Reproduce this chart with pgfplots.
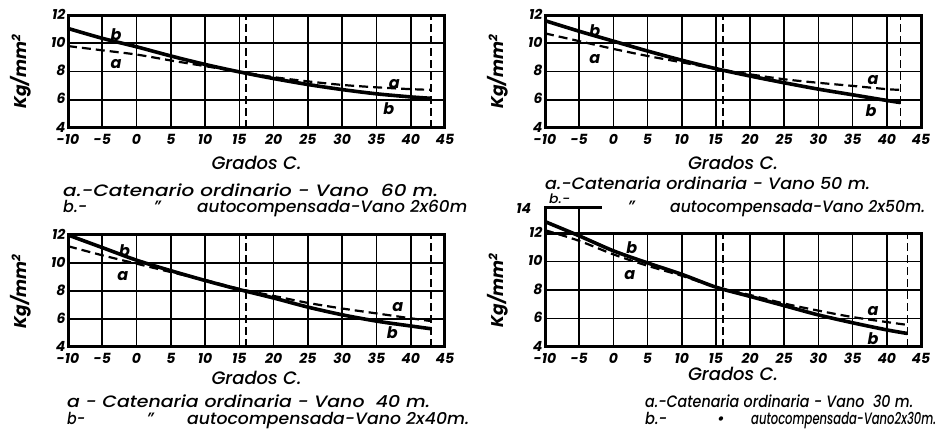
\documentclass[border=0pt]{standalone}
\usepackage{fontspec}
\setmainfont{Poppins}[UprightFont=* Medium, ItalicFont=* Medium Italic, BoldFont=* Bold, BoldItalicFont=* Bold Italic]
\usepackage{pgfplots}
\pgfplotsset{compat=1.18}

\pgfplotsset{
 panel/.style={
  scale only axis, width=377pt, height=113pt,
  xmin=-10, xmax=45, ymin=4, ymax=12,
  xtick={-10,-5,...,45}, ytick={4,6,...,12},
  xticklabels={-10,-5,0,5,10,15,20,25,30,35,40,45},
  yticklabels={4,6,8,10,12},
  grid=major, major grid style={black, line width=1.7pt},
  axis line style={black, line width=3pt},
  tick style={draw=none},
  ticklabel style={font=\fontsize{14}{14}\selectfont\bfseries\itshape},
  xticklabel style={yshift=-3pt},
  yticklabel style={xshift=1pt, yshift=1pt},
  /pgf/number format/assume math mode=true,
  xlabel={Grados C.},
  every axis x label/.style={at={(rel axis cs:0.5,0)}, yshift=-35pt, anchor=center,
     font=\fontsize{18}{18}\selectfont\itshape},
  ylabel={Kg/mm\textsuperscript{2}},
  every axis y label/.style={at={(rel axis cs:0,0.5)}, xshift=-47pt, anchor=center, rotate=90,
     font=\fontsize{17}{17}\selectfont\bfseries\itshape},
  clip=false,
 },
 cb/.style={black, line width=3.6pt, smooth, no markers},
 ca/.style={black, line width=2.2pt, smooth, no markers, dash pattern=on 9pt off 5pt},
 vref/.style={black, line width=1.6pt, no markers, dash pattern=on 8pt off 4pt},
}
\tikzset{lab/.style={font=\fontsize{16}{16}\selectfont\bfseries\itshape}}
\newcommand{\capfont}{\fontsize{16.5}{16.5}\selectfont\itshape}
\newcommand{\captxt}[2]{\resizebox{#1}{\height}{\capfont #2}}

\begin{document}
\begin{tikzpicture}[x=1pt,y=1pt]
\path[use as bounding box] (0,0) rectangle (938,430);

% Panel 1: Vano 60 m
\begin{axis}[panel, at={(68pt,302pt)}, anchor=south west]
\addplot[ca] coordinates {(-10,9.8) (-5,9.5) (0,9.2) (5,8.78) (10,8.38) (15,7.98) (20,7.6) (25,7.3) (30,7.05) (35,6.88) (40,6.75) (43,6.7)};
\addplot[cb] coordinates {(-10,11.05) (-5,10.35) (0,9.75) (5,9.1) (10,8.5) (15,7.97) (20,7.5) (25,7.08) (30,6.72) (35,6.42) (40,6.2) (43,6.1)};
\addplot[vref] coordinates {(16,4) (16,12)};
\addplot[vref] coordinates {(43,4) (43,12)};
\node[lab] at (axis cs:-3,10.6) {b};
\node[lab] at (axis cs:-3,8.5) {a};
\node[lab] at (axis cs:37.6,7.1) {a};
\node[lab] at (axis cs:36.8,5.4) {b};
\end{axis}

% Panel 2: Vano 50 m
\begin{axis}[panel, width=376pt, at={(545pt,302pt)}, anchor=south west]
\addplot[ca] coordinates {(-10,10.7) (-5,10.15) (0,9.6) (5,9.1) (10,8.65) (15,8.2) (20,7.8) (25,7.45) (30,7.2) (35,6.98) (40,6.75) (42,6.7)};
\addplot[cb] coordinates {(-10,11.6) (-5,10.85) (0,10.15) (5,9.45) (10,8.8) (15,8.2) (20,7.68) (25,7.2) (30,6.75) (35,6.35) (40,5.95) (42,5.8)};
\addplot[vref] coordinates {(16,4) (16,12)};
\addplot[vref] coordinates {(42,4) (42,12)};
\node[lab] at (axis cs:-2.7,10.9) {b};
\node[lab] at (axis cs:-2.7,8.9) {a};
\node[lab] at (axis cs:38,7.4) {a};
\node[lab] at (axis cs:37.7,5.2) {b};
\end{axis}

% Panel 3: Vano 40 m
\begin{axis}[panel, height=112pt, at={(68pt,83pt)}, anchor=south west,
  every axis x label/.append style={yshift=4pt}]
\addplot[ca] coordinates {(-10,11.2) (-5,10.55) (0,9.95) (5,9.35) (10,8.78) (15,8.15) (20,7.65) (25,7.15) (30,6.75) (35,6.4) (40,6.05) (43,5.85)};
\addplot[cb] coordinates {(-10,12.0) (-5,11.1) (0,10.2) (5,9.45) (10,8.75) (15,8.1) (20,7.5) (25,6.85) (30,6.3) (35,5.85) (40,5.5) (43,5.3)};
\addplot[vref] coordinates {(16,4) (16,12)};
\addplot[vref] coordinates {(43,4) (43,12)};
\node[lab] at (axis cs:-1.75,10.9) {b};
\node[lab] at (axis cs:-2,9.1) {a};
\node[lab] at (axis cs:38.1,6.87) {a};
\node[lab] at (axis cs:37.3,5.0) {b};
\end{axis}

% Panel 4: Vano 30 m
\begin{axis}[panel, width=376pt, height=114pt, at={(545pt,83pt)}, anchor=south west,
  every axis x label/.append style={yshift=8pt}]
\draw[black, line width=3pt] (axis cs:-10,12) -- (axis cs:-10,13.8) -- (axis cs:-1.7,13.8);
\draw[black, line width=1.7pt] (axis cs:-5,12) -- (axis cs:-5,13.8);
\node[font=\fontsize{14}{14}\selectfont\bfseries\itshape, anchor=east] at (axis cs:-11.5,13.7) {14};
\addplot[ca] coordinates {(-10,12.2) (-5,11.45) (0,10.5) (5,9.7) (10,9.0) (15,8.2) (20,7.65) (25,7.05) (30,6.55) (35,6.1) (40,5.75) (43,5.55)};
\addplot[cb] coordinates {(-10,12.8) (-5,11.8) (0,10.75) (5,9.9) (10,9.1) (15,8.2) (20,7.55) (25,6.9) (30,6.25) (35,5.7) (40,5.2) (43,4.95)};
\addplot[vref] coordinates {(16,4) (16,12)};
\addplot[vref] coordinates {(43,4) (43,12)};
\node[lab] at (axis cs:2.7,10.95) {b};
\node[lab] at (axis cs:2.4,9.05) {a};
\node[lab] at (axis cs:38,6.5) {a};
\node[lab] at (axis cs:38,4.6) {b};
\end{axis}

% Captions
\node[anchor=base west, inner sep=0pt] at (63,233) {\captxt{375pt}{a.-Catenario ordinario - Vano\ \ 60 m.}};
\node[anchor=base west, inner sep=0pt] at (63,217) {\captxt{24pt}{b.-}};
\node[anchor=base, inner sep=0pt] at (157,217) {\capfont ”};
\node[anchor=base west, inner sep=0pt] at (197,217) {\captxt{270pt}{autocompensada-Vano 2x60m}};

\node[anchor=base west, inner sep=0pt] at (545,240) {\captxt{325pt}{a.-Catenaria ordinaria - Vano 50 m.}};
\node[anchor=base west, inner sep=0pt] at (549,226) {\resizebox{21pt}{\height}{\fontsize{13}{13}\selectfont\itshape b.-}};
\node[anchor=base, inner sep=0pt] at (631,217) {\capfont ”};
\node[anchor=base west, inner sep=0pt] at (670,217) {\captxt{255pt}{autocompensada-Vano 2x50m.}};

\node[anchor=base west, inner sep=0pt] at (67,22) {\captxt{363pt}{a - Catenaria ordinaria - Vano\ \ 40 m.}};
\node[anchor=base west, inner sep=0pt] at (67,5) {\captxt{18pt}{b-}};
\node[anchor=base, inner sep=0pt] at (150,5) {\capfont ”};
\node[anchor=base west, inner sep=0pt] at (187,5) {\captxt{282pt}{autocompensada-Vano 2x40m.}};

\node[anchor=base west, inner sep=0pt] at (645,22) {\captxt{268pt}{a.-Catenaria ordinaria - Vano\ \ 30 m.}};
\node[anchor=base west, inner sep=0pt] at (645,5) {\captxt{22pt}{b.-}};
\node[anchor=base, inner sep=0pt] at (721,5) {\capfont •};
\node[anchor=base west, inner sep=0pt] at (751,5) {\captxt{185pt}{autocompensada-Vano2x30m.}};
\end{tikzpicture}
\end{document}
